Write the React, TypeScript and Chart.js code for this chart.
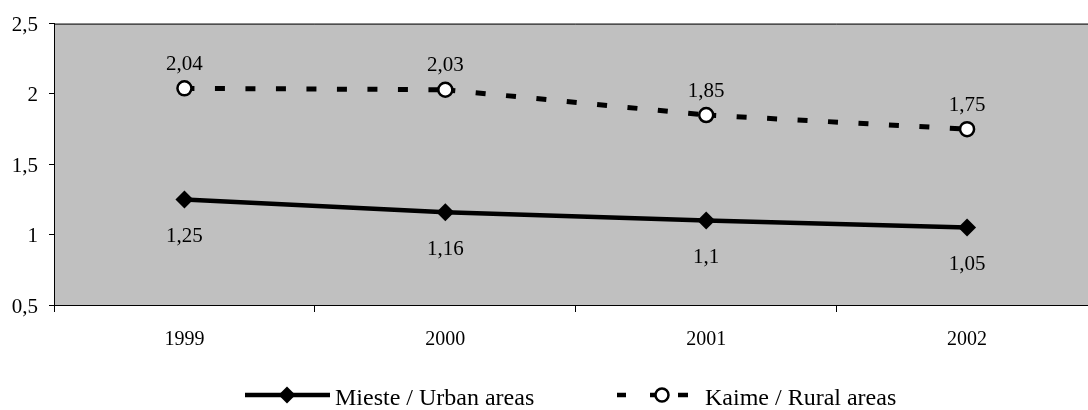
import React, { useEffect, useRef } from "react";
import { Chart, registerables } from "chart.js";

Chart.register(...registerables);

const categories = ["1999", "2000", "2001", "2002"];
const urbanValues = [1.25, 1.16, 1.1, 1.05];
const ruralValues = [2.04, 2.03, 1.85, 1.75];
const urbanLabel = "Mieste / Urban areas";
const ruralLabel = "Kaime / Rural areas";
const yMin = 0.5;
const yMax = 2.5;
const yStep = 0.5;

const FONT = "'Liberation Serif', 'Times New Roman', serif";
const PLOT_BG = "#c0c0c0";

const fmt = (v: number) => String(v).replace(".", ",");

const bgPlugin = {
  id: "plotBg",
  beforeDraw(chart: any) {
    const { ctx, chartArea } = chart;
    ctx.save();
    ctx.fillStyle = PLOT_BG;
    ctx.fillRect(chartArea.left, chartArea.top, chartArea.right - chartArea.left, chartArea.bottom - chartArea.top);
    ctx.restore();
  },
  afterDraw(chart: any) {
    const { ctx, chartArea } = chart;
    ctx.save();
    ctx.strokeStyle = "#000";
    ctx.lineWidth = 1;
    ctx.beginPath();
    ctx.moveTo(chartArea.left, chartArea.top + 0.5);
    ctx.lineTo(chartArea.right, chartArea.top + 0.5);
    ctx.stroke();
    ctx.restore();
  },
};

const labelPlugin = {
  id: "valueLabels",
  afterDatasetsDraw(chart: any) {
    const { ctx } = chart;
    ctx.save();
    ctx.font = `21px ${FONT}`;
    ctx.fillStyle = "#000";
    ctx.textAlign = "center";
    ctx.textBaseline = "middle";
    chart.data.datasets.forEach((ds: any, di: number) => {
      const meta = chart.getDatasetMeta(di);
      const dy = ds.labelOffset;
      meta.data.forEach((pt: any, i: number) => {
        ctx.fillText(fmt(ds.data[i]), pt.x, pt.y + dy);
      });
    });
    ctx.restore();
  },
};

const legendPlugin = {
  id: "customLegend",
  afterDraw(chart: any) {
    const { ctx } = chart;
    const ly = 395;
    const ty = 405;
    ctx.save();
    // Urban sample
    ctx.strokeStyle = "#000";
    ctx.lineWidth = 4.5;
    ctx.beginPath();
    ctx.moveTo(245, ly);
    ctx.lineTo(330, ly);
    ctx.stroke();
    ctx.fillStyle = "#000";
    ctx.beginPath();
    const dx = 287, r = 8.5;
    ctx.moveTo(dx, ly - r);
    ctx.lineTo(dx + r, ly);
    ctx.lineTo(dx, ly + r);
    ctx.lineTo(dx - r, ly);
    ctx.closePath();
    ctx.fill();
    // Rural sample
    ctx.lineWidth = 4.5;
    ctx.beginPath();
    ctx.moveTo(617, ly); ctx.lineTo(626, ly);
    ctx.moveTo(650, ly); ctx.lineTo(660, ly);
    ctx.moveTo(678, ly); ctx.lineTo(688, ly);
    ctx.stroke();
    ctx.beginPath();
    ctx.arc(662, ly, 6.5, 0, Math.PI * 2);
    ctx.fillStyle = "#fff";
    ctx.fill();
    ctx.lineWidth = 2.5;
    ctx.stroke();
    ctx.fillStyle = "#000";
    ctx.font = `24px ${FONT}`;
    ctx.textAlign = "left";
    ctx.textBaseline = "alphabetic";
    ctx.fillText(chart.data.datasets[0].label, 335, ty);
    ctx.fillText(chart.data.datasets[1].label, 705, ty);
    ctx.restore();
  },
};

export default function App() {
  const ref = useRef<HTMLCanvasElement | null>(null);
  useEffect(() => {
    if (!ref.current) return;
    const chart = new Chart(ref.current, {
      type: "line",
      data: {
        labels: categories,
        datasets: [
          {
            label: urbanLabel,
            data: urbanValues,
            borderColor: "#000",
            backgroundColor: "#000",
            borderWidth: 4.5,
            pointStyle: "rectRot",
            pointRadius: 9,
            pointBackgroundColor: "#000",
            pointBorderColor: "#000",
            pointBorderWidth: 0,
            tension: 0,
            fill: false,
            labelOffset: 37,
          } as any,
          {
            label: ruralLabel,
            data: ruralValues,
            borderColor: "#000",
            backgroundColor: "#fff",
            borderWidth: 5,
            borderDash: [10, 20.5],
            pointStyle: "circle",
            pointRadius: 7,
            pointBackgroundColor: "#fff",
            pointBorderColor: "#000",
            pointBorderWidth: 2.5,
            tension: 0,
            fill: false,
            labelOffset: -24,
            segment: {
              borderDash: () => [10, 20.5],
              borderDashOffset: (c: any) => c.p0DataIndex * 0.001,
            },
          } as any,
        ],
      },
      options: {
        responsive: false,
        animation: false,
        devicePixelRatio: 1,
        layout: { padding: { top: 22, right: 2, left: 0, bottom: 0 } },
        plugins: { legend: { display: false }, tooltip: { enabled: false } },
        scales: {
          x: {
            type: "category",
            offset: true,
            grid: { display: true, offset: true, drawOnChartArea: false, drawTicks: true, tickLength: 7, color: "#000", lineWidth: 1 },
            border: { display: true, color: "#000", width: 1 },
            ticks: { color: "#000", font: { family: FONT, size: 20 }, padding: 16, maxRotation: 0, autoSkip: false },
            afterFit: (s: any) => { s.height = 105; },
          },
          y: {
            min: yMin,
            max: yMax,
            grid: { display: true, drawOnChartArea: false, drawTicks: true, tickLength: 5, color: "#000", lineWidth: 1 },
            border: { display: true, color: "#000", width: 1 },
            ticks: { stepSize: yStep, color: "#000", font: { family: FONT, size: 21 }, padding: 11, labelOffset: 2, callback: (v: any) => fmt(Number(v)) },
            afterFit: (s: any) => { s.width = 54; },
          },
        },
      },
      plugins: [bgPlugin, labelPlugin, legendPlugin],
    });
    return () => chart.destroy();
  }, []);
  return (
    <div style={{ position: "fixed", left: 0, top: 0, width: 1088, height: 410, overflow: "hidden", background: "#fff" }}>
      <canvas ref={ref} width={1107} height={410} style={{ display: "block" }} />
    </div>
  );
}
